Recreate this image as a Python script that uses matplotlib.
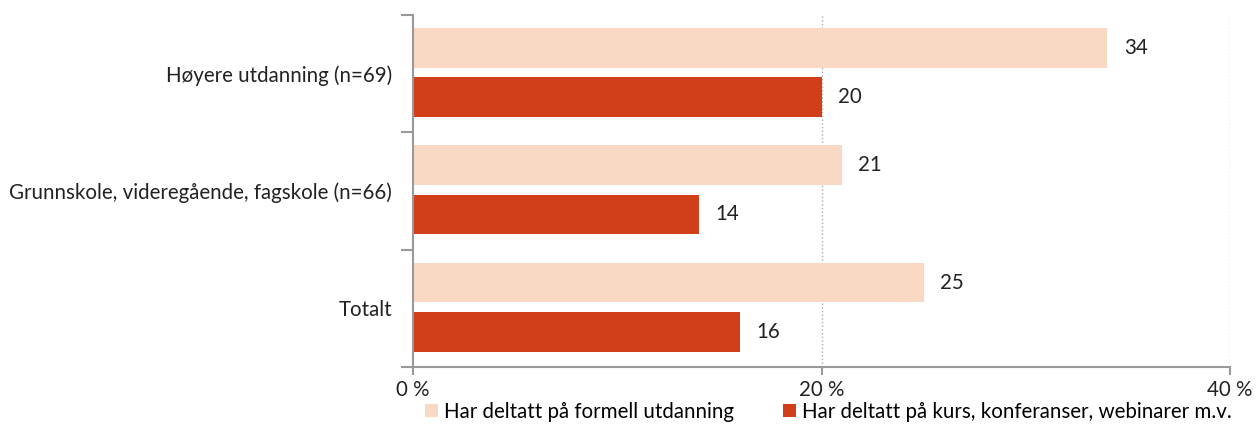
import matplotlib.pyplot as plt
import numpy as np

# data
categories = ['Høyere utdanning (n=69)', 'Grunnskole, videregående, fagskole (n=66)', 'Totalt']
formell = [34, 21, 25]
kurs = [20, 14, 16]
series_names = ['Har deltatt på formell utdanning', 'Har deltatt på kurs, konferanser, webinarer m.v.']
xticks = [0, 20, 40]

plt.rcParams['font.family'] = ['Lato', 'DejaVu Sans']
fs = 14.8

fig = plt.figure(figsize=(12.6, 4.26), dpi=100)
ax = fig.add_axes([413/1260, 1-367/426, (1230-413)/1260, (367-15)/426])

light = '#fad9c4'
dark = '#d13e1a'
pos = np.arange(len(categories))
h = 0.34
b1 = ax.barh(pos + 0.28, formell, height=h, color=light, label=series_names[0], zorder=2)
b2 = ax.barh(pos + 0.70, kurs, height=h, color=dark, label=series_names[1], zorder=2)

# value labels
for bars, vals in [(b1, formell), (b2, kurs)]:
    for r, v in zip(bars, vals):
        ax.text(v + 0.8, r.get_y() + r.get_height()/2, str(v), va='center', ha='left',
                fontsize=fs, color='#222222')

ax.set_xlim(0, 40)
ax.set_ylim(len(categories), 0)
ax.set_xticks(xticks)
ax.set_xticklabels([f'{t} %' for t in xticks], fontsize=fs, color='#222222')
ax.set_yticks(pos + 0.5)
ax.set_yticklabels(categories, fontsize=fs, color='#222222')
ax.set_yticks(np.arange(len(categories) + 1), minor=True)
ax.tick_params(axis='y', which='major', length=0, pad=15)
ax.tick_params(axis='y', which='minor', length=9, color='#999999', width=1.5)
ax.tick_params(axis='x', length=6, color='#999999', width=1.5, pad=3)

for s in ['top', 'right']:
    ax.spines[s].set_visible(False)
for s in ['left', 'bottom']:
    ax.spines[s].set_color('#999999')
    ax.spines[s].set_linewidth(1.5)

for t in xticks[1:]:
    ax.axvline(t, color='#aaaaaa', linestyle=':', linewidth=1, zorder=1)

fig.legend(handles=[b1, b2], loc='lower left', bbox_to_anchor=(413/1260, -0.02), ncol=2,
           frameon=False, fontsize=fs, handlelength=0.6, handleheight=0.6,
           handletextpad=0.3, columnspacing=2.4, borderaxespad=0.2)

fig.savefig('out.png', dpi=100)
